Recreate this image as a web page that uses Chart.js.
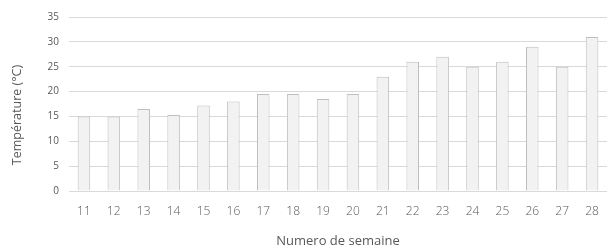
<!DOCTYPE html>
<html>
<head>
<meta charset="utf-8">
<script src="https://cdn.jsdelivr.net/npm/chart.js@4"></script>
<style>
  html, body { margin: 0; padding: 0; background: #fff; }
  #wrap { width: 607px; height: 249px; }
</style>
</head>
<body>
<div id="wrap"><canvas id="tempChart" width="607" height="249"></canvas></div>
<script>
const weeks = ['11', '12', '13', '14', '15', '16', '17', '18', '19', '20', '21', '22', '23', '24', '25', '26', '27', '28'];
const temperatures = [15, 15, 16.5, 15.3, 17.2, 18, 19.5, 19.5, 18.5, 19.5, 23, 26, 27, 25, 26, 29, 25, 31];
const yTicks = [0, 5, 10, 15, 20, 25, 30, 35];
const yTitle = 'Température (°C)';

const font = '"Open Sans", "Liberation Sans", sans-serif';

// y title sits a bit below the middle of the axis in the original
const yTitlePlugin = {
    id: 'yTitle',
    afterDraw(chart) {
        const ctx = chart.ctx;
        const area = chart.chartArea;
        ctx.save();
        ctx.translate(17, (area.top + area.bottom) / 2 + 11);
        ctx.rotate(-Math.PI / 2);
        ctx.font = '12.5px ' + font;
        ctx.fillStyle = '#595959';
        ctx.textAlign = 'center';
        ctx.textBaseline = 'middle';
        ctx.fillText(yTitle, 0, 0);
        ctx.restore();
    }
};

new Chart(document.getElementById('tempChart'), {
    type: 'bar',
    data: {
        labels: weeks,
        datasets: [{
            label: 'Température',
            data: temperatures,
            backgroundColor: '#f2f2f2',
            borderColor: '#bfbfbf',
            borderWidth: 1,
            categoryPercentage: 1,
            barPercentage: 0.42
        }]
    },
    options: {
        responsive: false,
        animation: false,
        layout: { padding: { top: 17, right: 0, left: 0, bottom: 0 } },
        plugins: {
            legend: { display: false },
            tooltip: { enabled: false }
        },
        scales: {
            x: {
                afterFit: (scale) => {
                    scale.height = 58;
                },
                grid: { display: false },
                border: { display: false },
                ticks: {
                    color: '#595959',
                    font: { family: font, size: 12, weight: 300 },
                    padding: 5,
                    maxRotation: 0
                },
                title: {
                    display: true,
                    text: 'Numero de semaine',
                    color: '#595959',
                    font: { family: font, size: 13 },
                    padding: { top: 10, bottom: 0 }
                }
            },
            y: {
                min: 0,
                max: 35,
                afterBuildTicks: (scale) => {
                    scale.ticks = yTicks.map(v => ({ value: v }));
                },
                afterFit: (scale) => {
                    scale.width = 69;
                },
                grid: { color: '#d9d9d9', lineWidth: 1, drawTicks: false },
                border: { display: false },
                ticks: {
                    color: '#595959',
                    font: { family: font, size: 10 },
                    padding: 10
                }
            }
        }
    },
    plugins: [yTitlePlugin]
});
</script>
</body>
</html>
